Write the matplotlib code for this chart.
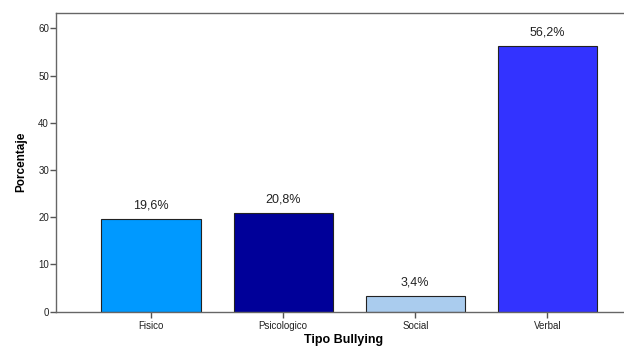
import matplotlib.pyplot as plt
import numpy as np

# Tipo de bullying (porcentaje)
categorias = ["Fisico", "Psicologico", "Social", "Verbal"]
porcentajes = [19.6, 20.8, 3.4, 56.2]
etiquetas = ["19,6%", "20,8%", "3,4%", "56,2%"]
colores = ["#0099ff", "#000099", "#aaccee", "#3333ff"]

plt.rcParams["font.family"] = ["Liberation Sans", "DejaVu Sans"]

fig = plt.figure(figsize=(6.24, 3.46), dpi=100)
ax = fig.add_axes([56 / 624, 1 - 311.7 / 346, 1 - 56 / 624 + 0.01, (311.7 - 12.7) / 346])

x = np.arange(len(categorias))
bars = ax.bar(x, porcentajes, width=0.75, color=colores, edgecolor="#222222", linewidth=0.8)

for b, txt in zip(bars, etiquetas):
    ax.annotate(txt, (b.get_x() + b.get_width() / 2, b.get_height()),
                xytext=(0, 5.5), textcoords="offset points",
                ha="center", va="bottom", fontsize=9, color="#222222")

ax.set_xlim(-0.719, 3.627)
ax.set_ylim(0, 63.3)
ax.set_yticks(range(0, 61, 10))
ax.set_xticks(x)
ax.set_xticklabels(categorias)

for s in ["left", "bottom", "top"]:
    ax.spines[s].set_color("#666666")
    ax.spines[s].set_linewidth(1.0)
ax.spines["right"].set_visible(False)

ax.tick_params(axis="both", colors="#555555", labelcolor="#222222", labelsize=7, length=4, width=1)
ax.tick_params(axis="x", pad=3)
ax.tick_params(axis="y", pad=1)

ax.set_ylabel("Porcentaje", fontsize=8.5, fontweight="bold", labelpad=8)
ax.set_xlabel("Tipo Bullying", fontsize=9, fontweight="bold", labelpad=2)

fig.savefig("out.png", dpi=100)
